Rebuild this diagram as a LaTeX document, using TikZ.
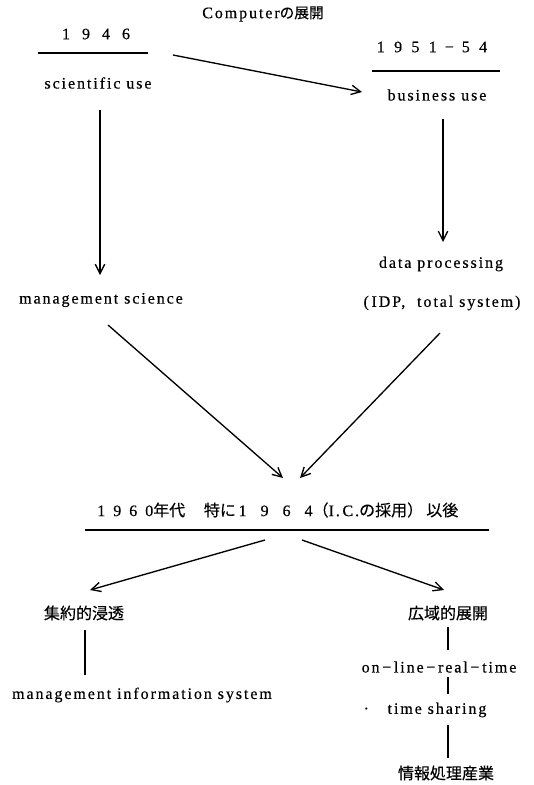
\documentclass[tikz,border=0pt]{standalone}
\usepackage{fontspec}
\setmainfont[LetterSpace=12,FakeBold=0.4]{Liberation Serif}
\newfontfamily\jp[FakeBold=0.3]{Noto Sans CJK JP}
\usetikzlibrary{arrows.meta}
\begin{document}
\begin{tikzpicture}[x=0.75pt,y=-0.75pt,
  txt/.style={inner sep=0pt, font=\fontsize{12}{14}\selectfont},
  jtxt/.style={inner sep=0pt, font=\fontsize{12}{14}\selectfont\jp},
  conn/.style={line width=1pt},
  arr/.style={line width=1pt, -{Straight Barb[length=7pt,width=7pt,line width=1pt]}}]
\useasboundingbox (0,0) rectangle (533,785);
% texts
\node[txt] (title) at (263,14) {Computer{\jp\fontsize{11}{13}\selectfont の展開}};
\node[txt] (y1946) at (96,34) {1\hspace{9pt}9\hspace{9pt}4\hspace{9pt}6};
\node[txt] (sci) at (98,83) {scientific use};
\node[txt] (y1951) at (432,47) {1\hspace{7pt}9\hspace{7pt}5\hspace{7pt}1\hspace{6pt}−\hspace{6pt}5\hspace{7pt}4};
\node[txt] (bus) at (437,95) {business use};
\node[txt] (ms) at (101,300) {management science};
\node[txt] (dp) at (441,264) {data processing};
\node[txt] (idp) at (442,303) {(\,IDP,\ \ total system)};
\node[txt, anchor=west] (era) at (97,510) {1\hspace{6pt}9\hspace{6pt}6\hspace{6pt}0{\jp 年代\hspace{14pt}特に}\hspace{2pt}1\hspace{10.5pt}9\hspace{10.5pt}6\hspace{10.5pt}4{\jp （}I.\,C.{\jp の採用）\hspace{0.2em}以後}};
\node[jtxt] (shu) at (84,613) {集約的浸透};
\node[txt] (mis) at (142,695) {management information system};
\node[jtxt] (kou) at (448,613) {広域的展開};
\node[txt] (onl) at (439,667) {on\,−\,line\,−\,real\,−\,time};
\node[txt] (ts) at (425,710) {·\hspace{14pt}time sharing};
\node[jtxt] (jo) at (446,773) {情報処理産業};
% underlines
\draw[conn] (38,53) -- (148,53);
\draw[conn] (372,71) -- (500,71);
\draw[conn] (85,530) -- (489,530);
% connector endpoints
\coordinate (a1s) at (173,55);  \coordinate (a1e) at (362,92);
\coordinate (a2s) at (100,110); \coordinate (a2e) at (100,275);
\coordinate (a3s) at (443,119); \coordinate (a3e) at (443,242);
\coordinate (a4s) at (108,325); \coordinate (a4e) at (283,478);
\coordinate (a5s) at (440,333); \coordinate (a5e) at (300,478);
\coordinate (a6s) at (265,540); \coordinate (a6e) at (90,590);
\coordinate (a7s) at (302,540); \coordinate (a7e) at (444,590);
\coordinate (l1s) at (85,630);  \coordinate (l1e) at (85,675);
\coordinate (l2s) at (448,627); \coordinate (l2e) at (448,650);
\coordinate (l3s) at (448,677); \coordinate (l3e) at (448,694);
\coordinate (l4s) at (448,725); \coordinate (l4e) at (448,758);
\draw[arr] (a1s) -- (a1e);
\draw[arr] (a2s) -- (a2e);
\draw[arr] (a3s) -- (a3e);
\draw[arr] (a4s) -- (a4e);
\draw[arr] (a5s) -- (a5e);
\draw[arr] (a6s) -- (a6e);
\draw[arr] (a7s) -- (a7e);
\draw[conn] (l1s) -- (l1e);
\draw[conn] (l2s) -- (l2e);
\draw[conn] (l3s) -- (l3e);
\draw[conn] (l4s) -- (l4e);
\end{tikzpicture}
\end{document}
